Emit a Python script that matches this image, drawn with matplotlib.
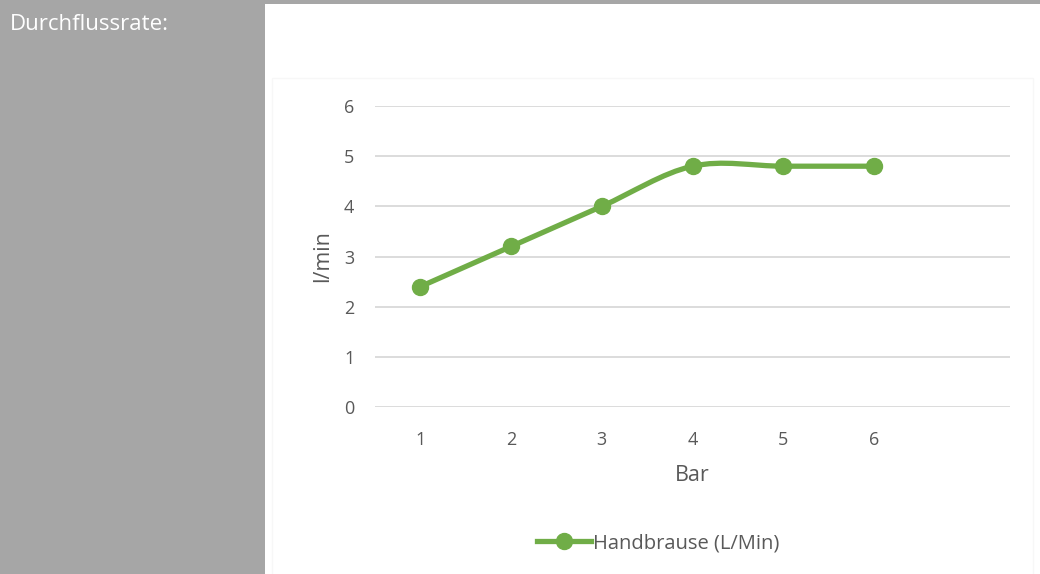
import matplotlib.pyplot as plt
from matplotlib.path import Path
from matplotlib.patches import PathPatch, Rectangle
from matplotlib.lines import Line2D

# data
bar = [1, 2, 3, 4, 5, 6]
flow = [2.4, 3.2, 4.0, 4.8, 4.8, 4.8]
x_ticks = [1, 2, 3, 4, 5, 6]
y_ticks = [0, 1, 2, 3, 4, 5, 6]
series_name = "Handbrause (L/Min)"

GREEN = "#70ad47"
GRAY = "#a6a6a6"
TXT = "#595959"
FONT = ["Open Sans", "DejaVu Sans"]

W, H = 1040, 574
fig = plt.figure(figsize=(W / 100, H / 100), dpi=100, facecolor="white")

# left grey panel + top border
fig.patches.append(Rectangle((0, 0), 265 / W, 1, transform=fig.transFigure,
                             facecolor=GRAY, edgecolor="none", zorder=0))
fig.patches.append(Rectangle((0, 1 - 4 / H), 1, 4 / H, transform=fig.transFigure,
                             facecolor=GRAY, edgecolor="none", zorder=0))
# faint chart frame
fig.patches.append(Rectangle((272 / W, -0.01), (1033 - 272) / W, 1.01 - 78 / H,
                             transform=fig.transFigure, facecolor="none",
                             edgecolor="#f7f7f7", lw=1, zorder=0))
fig.text(10 / W, 1 - 25 / H, "Durchflussrate:", color="white", fontsize=16,
         family=FONT, va="center", ha="left")

ax = fig.add_axes([375 / W, 1 - 407 / H, (1010 - 375) / W, (407 - 106) / H])
ax.set_xlim(0.5, 7.5)
ax.set_ylim(0, 6)
ax.set_yticks(y_ticks)
ax.set_xticks(x_ticks)
ax.grid(axis="y", color="#d9d9d9", lw=1.3)
ax.set_axisbelow(True)
for s in ax.spines.values():
    s.set_visible(False)
ax.tick_params(length=0, labelsize=13, labelcolor=TXT, pad=15)
ax.tick_params(axis="x", pad=17)
for lab in ax.get_xticklabels() + ax.get_yticklabels():
    lab.set_family(FONT)
ax.set_xlabel("Bar", fontsize=15.5, color=TXT, family=FONT, labelpad=12)
ax.set_ylabel("l/min", fontsize=15.5, color=TXT, family=FONT, labelpad=8)

# smoothed line (bezier through the points, like a spreadsheet "smooth line")
pts = list(zip(bar, flow))
verts = [pts[0]]
codes = [Path.MOVETO]
n = len(pts)
for i in range(n - 1):
    p0 = pts[max(i - 1, 0)]
    p1 = pts[i]
    p2 = pts[i + 1]
    p3 = pts[min(i + 2, n - 1)]
    c1 = (p1[0] + (p2[0] - p0[0]) / 6, p1[1] + (p2[1] - p0[1]) / 6)
    c2 = (p2[0] - (p3[0] - p1[0]) / 6, p2[1] - (p3[1] - p1[1]) / 6)
    verts += [c1, c2, p2]
    codes += [Path.CURVE4] * 3
ax.add_patch(PathPatch(Path(verts, codes), facecolor="none", edgecolor=GREEN,
                       lw=3.8, capstyle="round", joinstyle="round", zorder=3))
ax.plot(bar, flow, ls="none", marker="o", ms=11.5, color=GREEN, zorder=4)

handle = Line2D([], [], color=GREEN, lw=3.8, marker="o", ms=11.5)
leg = fig.legend([handle], [series_name], loc="center", bbox_to_anchor=(658 / W, 1 - 543 / H),
                 frameon=False, handlelength=2.7, handletextpad=0.1,
                 prop={"family": FONT, "size": 14.5})
for t in leg.get_texts():
    t.set_color(TXT)

fig.savefig("out.png", dpi=100, facecolor="white")
